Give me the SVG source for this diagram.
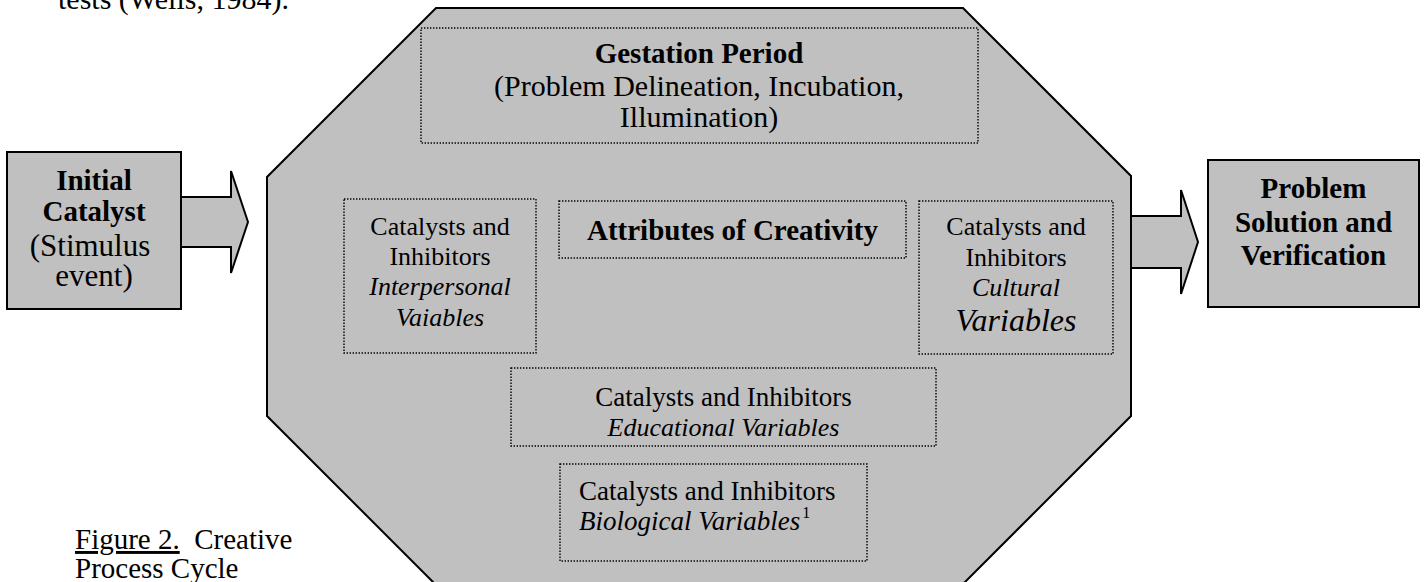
<svg xmlns="http://www.w3.org/2000/svg" width="1426" height="582" viewBox="0 0 1426 582">
<style>
  text { font-family: "Liberation Serif", "Times New Roman", serif; fill: #000; }
  .b { font-weight: bold; font-size: 29px; }
  .r { font-size: 26px; }
  .i { font-style: italic; }
  .c { text-anchor: middle; }
  .shape { fill: #c0c0c0; stroke: #000; stroke-width: 2; stroke-linejoin: miter; }
  .dot { fill: none; stroke: #000; stroke-width: 1.4; stroke-dasharray: 1.4 1.6; }
</style>
<rect width="1426" height="582" fill="#fff"/>
<text x="58" y="9" style="font-size:30px">tests (Wells, 1984).</text>

<g id="connectors">
  <polygon class="shape" points="181,197 231,197 231,171 248,222 231,273 231,247 181,247"/>
  <polygon class="shape" points="1131,216 1181,216 1181,190 1198,242 1181,294 1181,268 1131,268"/>
</g>

<g id="creative-process">
  <polygon class="shape" points="436,8 963,8 1131,176 1131,416 947,600 451,600 267,416 267,177"/>
</g>

<g id="initial-catalyst">
  <rect class="shape" x="7" y="152" width="174" height="157"/>
  <text class="b c" x="94" y="190">Initial</text>
  <text class="b c" x="94" y="221">Catalyst</text>
  <text class="c" x="90" y="256" style="font-size:31px">(Stimulus</text>
  <text class="c" x="94" y="286" style="font-size:31px">event)</text>
</g>

<g id="problem-solution">
  <rect class="shape" x="1208" y="160" width="211" height="147"/>
  <text class="b c" x="1313.5" y="198">Problem</text>
  <text class="b c" x="1313.5" y="232">Solution and</text>
  <text class="b c" x="1313.5" y="265">Verification</text>
</g>

<g id="gestation-period">
  <rect class="dot" x="421" y="28" width="557" height="115"/>
  <text class="b c" x="699" y="63">Gestation Period</text>
  <text class="c" x="699" y="96" style="font-size:30px">(Problem Delineation, Incubation,</text>
  <text class="c" x="699" y="127" style="font-size:30px">Illumination)</text>
</g>

<g id="interpersonal">
  <rect class="dot" x="344" y="199" width="192" height="154"/>
  <text class="r c" x="440" y="235">Catalysts and</text>
  <text class="r c" x="440" y="265">Inhibitors</text>
  <text class="r c i" x="440" y="295">Interpersonal</text>
  <text class="r c i" x="440" y="326">Vaiables</text>
</g>

<g id="attributes">
  <rect class="dot" x="559" y="201" width="347" height="57"/>
  <text class="b c" x="732.5" y="240">Attributes of Creativity</text>
</g>

<g id="cultural">
  <rect class="dot" x="919" y="201" width="194" height="153"/>
  <text class="r c" x="1016" y="235">Catalysts and</text>
  <text class="r c" x="1016" y="266">Inhibitors</text>
  <text class="r c i" x="1016" y="296">Cultural</text>
  <text class="c i" x="1016" y="331" style="font-size:32px">Variables</text>
</g>

<g id="educational">
  <rect class="dot" x="511" y="368" width="425" height="78"/>
  <text class="c" x="723.5" y="406" style="font-size:27px">Catalysts and Inhibitors</text>
  <text class="r c i" x="723.5" y="436">Educational Variables</text>
</g>

<g id="biological">
  <rect class="dot" x="560" y="464" width="307" height="97"/>
  <text x="579" y="500" style="font-size:27px">Catalysts and Inhibitors</text>
  <text class="i" x="579" y="530" style="font-size:27px">Biological Variables<tspan style="font-style:normal;font-size:16px" dx="2" dy="-12">1</tspan></text>
</g>

<g id="caption">
  <text x="75" y="549" style="font-size:29px" xml:space="preserve"><tspan text-decoration="underline">Figure 2.</tspan>  Creative</text>
  <text x="75" y="578" style="font-size:29px">Process Cycle</text>
</g>
</svg>
